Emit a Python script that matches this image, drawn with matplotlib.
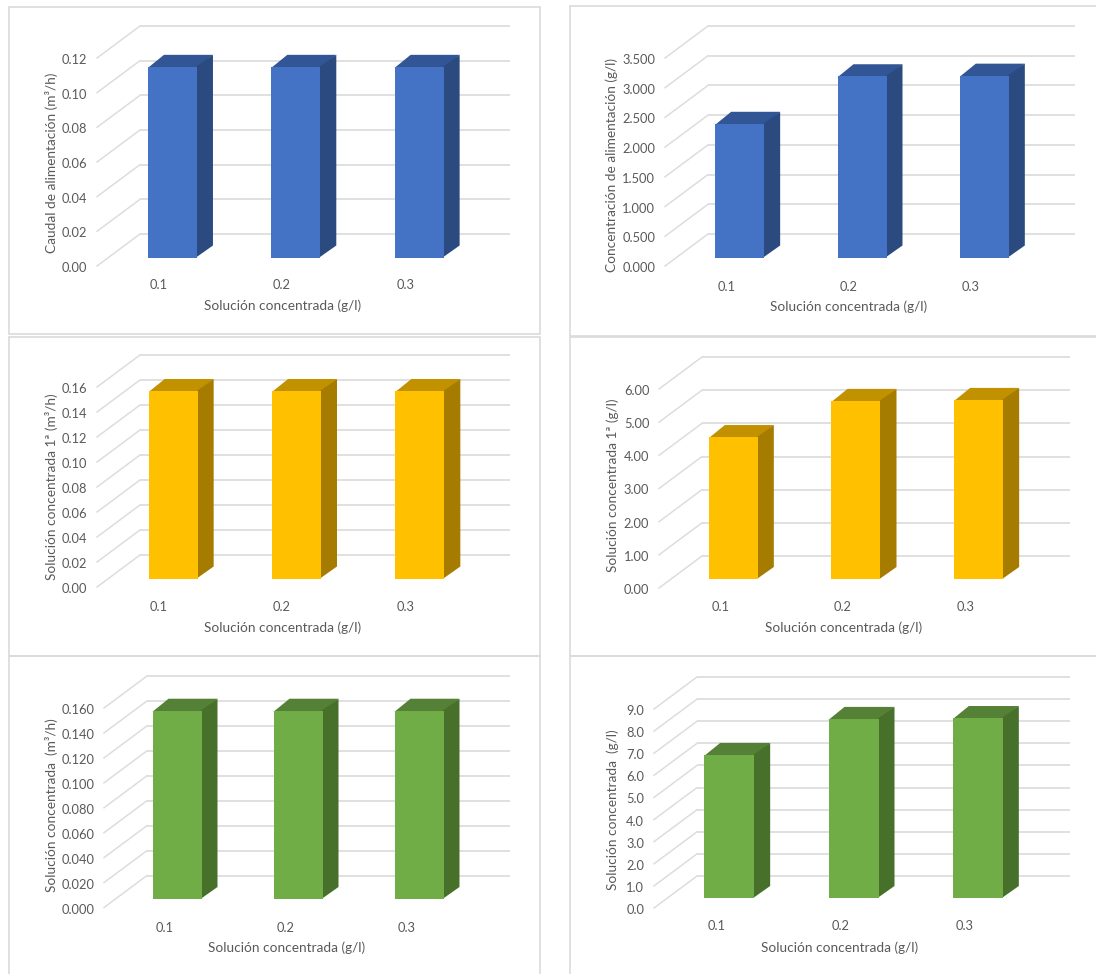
import matplotlib
matplotlib.use('Agg')
import matplotlib.pyplot as plt
from matplotlib.patches import Rectangle
from matplotlib.transforms import ScaledTranslation

W, H = 1096, 974
plt.rcParams['font.family'] = ['Lato', 'DejaVu Sans']

categories = ['0.1', '0.2', '0.3']
xlabel = 'Solución concentrada (g/l)'

flow_feed = [0.11, 0.11, 0.11]
conc_feed = [2.25, 3.05, 3.06]
flow_first = [0.15, 0.15, 0.15]
conc_first = [4.28, 5.37, 5.40]
flow_conc = [0.151, 0.151, 0.151]
conc_conc = [6.47, 8.10, 8.14]

ticks_flow_feed = [0.00, 0.02, 0.04, 0.06, 0.08, 0.10, 0.12]
ticks_conc_feed = [0.0, 0.5, 1.0, 1.5, 2.0, 2.5, 3.0, 3.5]
ticks_flow_first = [0.00, 0.02, 0.04, 0.06, 0.08, 0.10, 0.12, 0.14, 0.16]
ticks_conc_first = [0.0, 1.0, 2.0, 3.0, 4.0, 5.0, 6.0]
ticks_flow_conc = [0.00, 0.02, 0.04, 0.06, 0.08, 0.10, 0.12, 0.14, 0.16]
ticks_conc_conc = [0.0, 1.0, 2.0, 3.0, 4.0, 5.0, 6.0, 7.0, 8.0, 9.0]

blue = ('#4472C4', '#2A4A80', '#315595')
yellow = ('#FFC000', '#A67C00', '#C29100')
green = ('#70AD47', '#47702A', '#558136')
TEXT = '#595959'
GRID = '#DDDDDD'


def px_rect(left, top, right, bottom):
    return [left / W, 1 - bottom / H, (right - left) / W, (bottom - top) / H]


def draw_panel(values, ticks, fmt, ylabel, colors, left, right, y0, ytop,
               shift, bar_w, label_x, label_y, ylab_x, ylab_y, lab_pad, tick_pad,
               depth=(43, 32), bar_off=8.5, bar_depth=(16, 12)):
    ax = fig.add_axes(px_rect(left, ytop, right, y0))
    ax.set_xlim(-0.5, 2.5)
    ax.set_ylim(ticks[0], ticks[-1])
    ax.patch.set_visible(False)
    for s in ax.spines.values():
        s.set_visible(False)

    # data units per pixel, used for the oblique depth direction
    sx = 3 / (right - left)
    sy = (ticks[-1] - ticks[0]) / (y0 - ytop)
    dx, dy = depth[0] * sx, depth[1] * sy

    # back wall and side wall gridlines
    for t in ticks:
        ax.plot([-0.5, -0.5 + dx], [t, t + dy], color=GRID, lw=1.1, clip_on=False, zorder=1)
        ax.plot([-0.5 + dx, 2.5 + dx], [t + dy, t + dy], color=GRID, lw=1.3,
                solid_capstyle='butt', clip_on=False, zorder=1)

    ddx, ddy = bar_depth[0] * sx, bar_depth[1] * sy
    w = bar_w * sx
    for i, v in enumerate(values):
        x0 = i - w / 2 + shift * sx
        x1 = x0 + w
        b = bar_off * sy
        # side and top faces run a pixel under the front face so no seam shows
        ax.fill([x0, x1, x1 + ddx, x0 + ddx], [b + v - sy, b + v - sy, b + v + ddy, b + v + ddy],
                color=colors[2], lw=0, clip_on=False, zorder=3)
        ax.fill([x1 - sx, x1 + ddx, x1 + ddx, x1 - sx], [b, b + ddy, b + v + ddy, b + v],
                color=colors[1], lw=0, clip_on=False, zorder=3)
        ax.add_patch(Rectangle((x0, b), w, v, fc=colors[0], lw=0, clip_on=False, zorder=4))

    ax.set_xticks(range(3), categories)
    ax.set_yticks(ticks, [fmt.format(t) for t in ticks])
    ax.tick_params(length=0, colors=TEXT, labelsize=9.3)
    ax.tick_params(axis='x', pad=lab_pad)
    ax.tick_params(axis='y', pad=tick_pad)

    # nudge the value labels one pixel down
    nudge = ScaledTranslation(0, -1 / 100, fig.dpi_scale_trans)
    for lab in ax.get_yticklabels():
        lab.set_transform(lab.get_transform() + nudge)

    ax.set_xlabel(xlabel, color=TEXT, fontsize=9.8)
    ax.set_ylabel(ylabel, color=TEXT, fontsize=9.8)
    ax.xaxis.set_label_coords((label_x - left) / (right - left), (y0 - label_y) / (y0 - ytop))
    ax.yaxis.set_label_coords((ylab_x - left) / (right - left), (y0 - ylab_y) / (y0 - ytop))
    ax.xaxis.label.set_verticalalignment('center')
    ax.yaxis.label.set_verticalalignment('center')
    return ax


fig = plt.figure(figsize=(W / 100, H / 100), dpi=100, facecolor='white')

# chart frames
frames = [(8.5, 6.5, 539.5, 333.5), (569.5, 6.5, 1100, 336),
          (8.5, 336.5, 540, 656), (569.5, 336.5, 1100, 656),
          (8.5, 656.5, 540, 980), (569.5, 656.5, 1100, 980)]
for l, t, r, b in frames:
    fig.add_artist(Rectangle((l / W, 1 - b / H), (r - l) / W, (b - t) / H, fc='none',
                             ec='#DADADA', lw=1.2, transform=fig.transFigure))

draw_panel(flow_feed, ticks_flow_feed, '{:.2f}', 'Caudal de alimentación (m³/h)', blue,
           97, 467, 266, 58, 13.8, 49, 283, 306, 52, 163, 9.5, 7)
draw_panel(conc_feed, ticks_conc_feed, '{:.3f}', 'Concentración de alimentación (g/l)', blue,
           665, 1032, 266, 58, 13.5, 49, 849, 307, 612, 165, 10.5, 7)
draw_panel(flow_first, ticks_flow_first, '{:.2f}', 'Solución concentrada 1ª (m³/h)', yellow,
           97, 467, 587, 387, 14.5, 49, 283, 628, 52, 487, 10, 7)
draw_panel(conc_first, ticks_conc_first, '{:.2f}', 'Solución concentrada 1ª (g/l)', yellow,
           659, 1027, 588, 389, 13, 49, 844, 628, 613, 485, 9.3, 7, bar_off=9)
draw_panel(flow_conc, ticks_flow_conc, '{:.3f}', 'Solución concentrada  (m³/h)', green,
           104, 467, 907.5, 708, 12.5, 49, 287, 948, 52, 805, 10.5, 7)
draw_panel(conc_conc, ticks_conc_conc, '{:.1f}', 'Solución concentrada  (g/l)', green,
           654, 1027, 908, 709, 13, 50, 840, 948, 613, 810, 8.5, 7, bar_off=10)

fig.savefig('out.png', dpi=100)
